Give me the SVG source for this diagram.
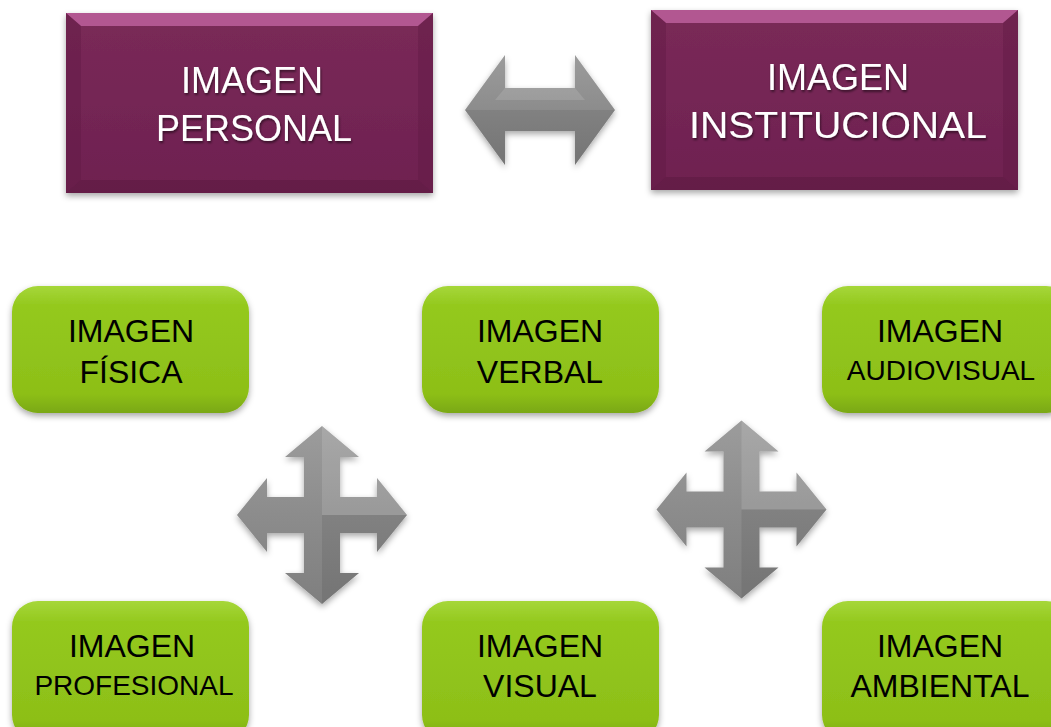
<svg xmlns="http://www.w3.org/2000/svg" width="1051" height="727" viewBox="0 0 1051 727">
<defs>
<linearGradient id="purple" x1="0" y1="0" x2="0" y2="1">
<stop offset="0" stop-color="#7a2a58"/>
<stop offset="1" stop-color="#6e2150"/>
</linearGradient>
<linearGradient id="green" x1="0" y1="0" x2="0" y2="1">
<stop offset="0" stop-color="#a6d73a"/>
<stop offset="0.15" stop-color="#94c91e"/>
<stop offset="0.85" stop-color="#8dbf18"/>
<stop offset="1" stop-color="#7aa812"/>
</linearGradient>
<linearGradient id="greyV" x1="0" y1="0" x2="0" y2="1">
<stop offset="0" stop-color="#9c9c9c"/>
<stop offset="0.5" stop-color="#8c8c8c"/>
<stop offset="1" stop-color="#7f7f7f"/>
</linearGradient>
<filter id="sh" x="-10%" y="-10%" width="120%" height="130%">
<feDropShadow dx="0" dy="3" stdDeviation="3" flood-color="#000" flood-opacity="0.35"/>
</filter>
<filter id="ts" x="-5%" y="-20%" width="110%" height="150%">
<feDropShadow dx="1" dy="2" stdDeviation="1.2" flood-color="#000" flood-opacity="0.5"/>
</filter>
<path id="cross" d="M0,-89 L37,-58 L18,-58 L18,-18 L55,-18 L55,-37 L85,0 L55,37 L55,18 L18,18 L18,58 L37,58 L0,89 L-37,58 L-18,58 L-18,18 L-55,18 L-55,37 L-85,0 L-55,-37 L-55,-18 L-18,-18 L-18,-58 L-37,-58 Z"/>
</defs>
<style>
.pbox{fill:url(#purple);filter:url(#sh)}
.gbox{fill:url(#green);filter:url(#sh)}
.pt{font-family:"Liberation Sans",Arial,sans-serif;font-size:36px;fill:#ffffff;text-anchor:middle;filter:url(#ts)}
.gt{font-family:"Liberation Sans",Arial,sans-serif;font-size:32px;fill:#000000;text-anchor:middle}
.gs{font-size:28px}
.arrow{fill:url(#greyV);filter:url(#sh)}
.facet{fill:#ffffff;opacity:0.12}
.facetd{fill:#000000;opacity:0.08}
</style>
<rect width="1051" height="727" fill="#ffffff"/>

<g id="node-personal">
<rect class="pbox" x="66" y="13" width="367" height="180"/>
<polygon points="66,13 433,13 418,26 81,26" fill="#c163a0" opacity="0.8"/>
<polygon points="66,13 81,26 81,180 66,193" fill="#5f1a43" opacity="0.4"/>
<polygon points="433,13 418,26 418,180 433,193" fill="#5f1a43" opacity="0.4"/>
<polygon points="66,193 81,180 418,180 433,193" fill="#5a1840" opacity="0.5"/>
<text class="pt" x="252" y="93">IMAGEN</text>
<text class="pt" x="254" y="141">PERSONAL</text>
</g>

<g id="node-institucional">
<rect class="pbox" x="651" y="10" width="367" height="180"/>
<polygon points="651,10 1018,10 1003,23 666,23" fill="#c163a0" opacity="0.8"/>
<polygon points="651,10 666,23 666,177 651,190" fill="#5f1a43" opacity="0.4"/>
<polygon points="1018,10 1003,23 1003,177 1018,190" fill="#5f1a43" opacity="0.4"/>
<polygon points="651,190 666,177 1003,177 1018,190" fill="#5a1840" opacity="0.5"/>
<text class="pt" x="838" y="90">IMAGEN</text>
<text class="pt" x="838" y="138" textLength="298" lengthAdjust="spacingAndGlyphs">INSTITUCIONAL</text>
</g>

<g id="node-fisica">
<rect class="gbox" x="12" y="286" width="237" height="127" rx="26"/>
<text class="gt" x="131" y="342">IMAGEN</text>
<text class="gt" x="131" y="383">FÍSICA</text>
</g>
<g id="node-verbal">
<rect class="gbox" x="422" y="286" width="237" height="127" rx="26"/>
<text class="gt" x="540" y="342">IMAGEN</text>
<text class="gt" x="540" y="383">VERBAL</text>
</g>
<g id="node-audiovisual">
<rect class="gbox" x="822" y="286" width="250" height="127" rx="26"/>
<text class="gt" x="940" y="342">IMAGEN</text>
<text class="gt gs" x="941" y="380">AUDIOVISUAL</text>
</g>
<g id="node-profesional">
<rect class="gbox" x="12" y="601" width="237" height="140" rx="26"/>
<text class="gt" x="132" y="657">IMAGEN</text>
<text class="gt gs" x="134" y="695">PROFESIONAL</text>
</g>
<g id="node-visual">
<rect class="gbox" x="422" y="601" width="237" height="140" rx="26"/>
<text class="gt" x="540" y="657">IMAGEN</text>
<text class="gt" x="540" y="697">VISUAL</text>
</g>
<g id="node-ambiental">
<rect class="gbox" x="822" y="601" width="250" height="140" rx="26"/>
<text class="gt" x="940" y="657">IMAGEN</text>
<text class="gt" x="940" y="697">AMBIENTAL</text>
</g>

<g id="connectors">
<g id="double-arrow">
<path class="arrow" d="M465,110 L505,55 L505,88 L575,88 L575,55 L615,110 L575,165 L575,131 L505,131 L505,165 Z"/>
<path class="facet" d="M505,88 L575,88 L585,100 L495,100 Z"/>
<path class="facetd" d="M465,110 L615,110 L575,165 L575,131 L505,131 L505,165 Z"/>
</g>
<g id="cross-left" transform="translate(322,515)">
<use href="#cross" class="arrow"/>
<path class="facet" d="M0,-89 L37,-58 L18,-58 L18,-18 L55,-18 L55,-37 L85,0 L0,0 Z"/>
<path class="facetd" d="M0,0 L85,0 L55,37 L55,18 L18,18 L18,58 L37,58 L0,89 Z"/>
</g>
<g id="cross-right" transform="translate(741.5,509.5)">
<use href="#cross" class="arrow"/>
<path class="facet" d="M0,-89 L37,-58 L18,-58 L18,-18 L55,-18 L55,-37 L85,0 L0,0 Z"/>
<path class="facetd" d="M0,0 L85,0 L55,37 L55,18 L18,18 L18,58 L37,58 L0,89 Z"/>
</g>
</g>
</svg>
